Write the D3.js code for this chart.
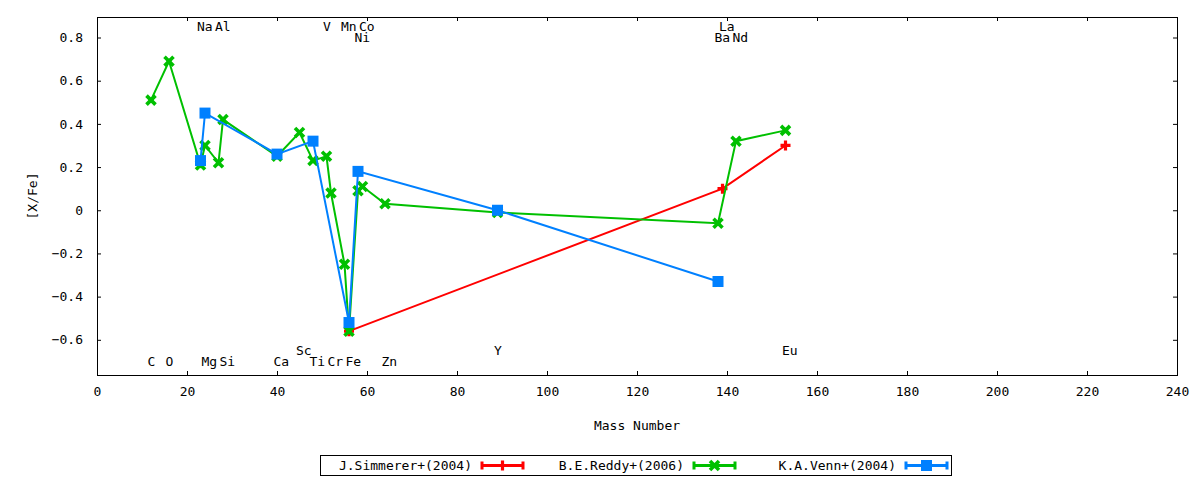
<!DOCTYPE html>
<html>
<head>
<meta charset="utf-8">
<script src="https://cdn.jsdelivr.net/npm/d3@7"></script>
<style>
  html, body { margin: 0; padding: 0; background: #fff; }
  text { font-family: "DejaVu Sans Mono", monospace; font-size: 13px; fill: #000; }
</style>
</head>
<body>
<svg id="chart" width="1200" height="480"></svg>
<script>
// ---- data ----
const simmererMass = [56, 139, 153];
const simmererVal  = [-0.56, 0.10, 0.30];

const reddyMass = [12, 16, 23, 24, 27, 28, 40, 45, 48, 51, 52, 55, 56, 58, 59, 64, 89, 138, 142, 153];
const reddyVal  = [0.51, 0.69, 0.21, 0.30, 0.22, 0.42, 0.25, 0.36, 0.23, 0.25, 0.08, -0.25, -0.56, 0.09, 0.11, 0.03, -0.01, -0.06, 0.32, 0.37];

const vennMass = [23, 24, 40, 48, 56, 58, 89, 138];
const vennVal  = [0.23, 0.45, 0.26, 0.32, -0.52, 0.18, 0.00, -0.33];

const elemNames = ["Na", "Al", "V", "Mn", "Co", "La", "Ni", "Ba", "Nd", "Sc", "Y", "Eu", "C", "O", "Mg", "Si", "Ca", "Ti", "Cr", "Fe", "Zn"];
const elemMass  = [23, 27, 51, 55, 59, 139, 58, 138, 142, 45, 89, 153, 12, 16, 24, 28, 40, 48, 52, 56, 64];
const elemY     = [0.85, 0.85, 0.85, 0.85, 0.85, 0.85, 0.80, 0.80, 0.80, -0.65, -0.65, -0.65, -0.70, -0.70, -0.70, -0.70, -0.70, -0.70, -0.70, -0.70, -0.70];

const xTicks = [0, 20, 40, 60, 80, 100, 120, 140, 160, 180, 200, 220, 240];
const yTicks = [-0.6, -0.4, -0.2, 0, 0.2, 0.4, 0.6, 0.8];

const seriesNames = ["J.Simmerer+(2004)", "B.E.Reddy+(2006)", "K.A.Venn+(2004)"];
const xTitle = "Mass Number";
const yTitle = "[X/Fe]";

// ---- layout ----
const L = 97, R = 1177, T = 17, B = 375;
const svg = d3.select("#chart");
const x = d3.scaleLinear().domain([0, 240]).range([L, R]);
const y = d3.scaleLinear().domain([-0.763, 0.895]).range([B, T]);
const tickLen = 4;

// axes with inward ticks (mirrored)
const fmt = d => d === 0 ? "0" : d3.format(".1f")(d);
const axB = svg.append("g").attr("transform", `translate(0,${B})`)
  .call(d3.axisBottom(x).tickValues(xTicks).tickSizeInner(-tickLen).tickSizeOuter(0).tickPadding(12).tickFormat(d3.format("d")));
const axT = svg.append("g").attr("transform", `translate(0,${T})`)
  .call(d3.axisTop(x).tickValues(xTicks).tickSizeInner(-tickLen).tickSizeOuter(0).tickFormat(""));
const axL = svg.append("g").attr("transform", `translate(${L},0)`)
  .call(d3.axisLeft(y).tickValues(yTicks).tickSizeInner(-tickLen).tickSizeOuter(0).tickPadding(14).tickFormat(fmt));
const axR = svg.append("g").attr("transform", `translate(${R},0)`)
  .call(d3.axisRight(y).tickValues(yTicks).tickSizeInner(-tickLen).tickSizeOuter(0).tickFormat(""));
[axB, axT, axL, axR].forEach(a => {
  a.select(".domain").remove();
  a.selectAll("line").attr("stroke", "#000").attr("stroke-width", 1);
  a.selectAll("text").style("font-family", "DejaVu Sans Mono, monospace").style("font-size", "13px").attr("fill", "#000");
});
axB.selectAll("text").attr("dy", "0.71em");

// border
svg.append("rect").attr("x", L + 0.5).attr("y", T + 0.5).attr("width", R - L).attr("height", B - T)
  .attr("fill", "none").attr("stroke", "#000").attr("stroke-width", 1);

// titles
svg.append("text").attr("x", (L + R) / 2).attr("y", 425).attr("text-anchor", "middle")
  .attr("dominant-baseline", "central").text(xTitle);
svg.append("text").attr("transform", `translate(32,${(T + B) / 2}) rotate(-90)`)
  .attr("text-anchor", "middle").attr("dominant-baseline", "central").text(yTitle);

// element labels
svg.append("g").selectAll("text").data(elemNames).join("text")
  .attr("x", (d, i) => x(elemMass[i]) - 3.5)
  .attr("y", (d, i) => y(elemY[i]))
  .attr("dominant-baseline", "central")
  .text(d => d);

// ---- series ----
const colors = ["#ff0000", "#00c000", "#0080ff"];
const series = [
  { mass: simmererMass, val: simmererVal, color: colors[0], marker: "plus" },
  { mass: reddyMass, val: reddyVal, color: colors[1], marker: "cross" },
  { mass: vennMass, val: vennVal, color: colors[2], marker: "square" }
];
const line = d3.line().x(d => x(d[0])).y(d => y(d[1]));

function drawMarker(g, type, cx, cy, color) {
  if (type === "plus") {
    g.append("path").attr("d", `M${cx - 5},${cy}H${cx + 5}M${cx},${cy - 5}V${cy + 5}`)
      .attr("stroke", color).attr("stroke-width", 3.2).attr("fill", "none");
  } else if (type === "cross") {
    g.append("path").attr("d", `M${cx - 4.5},${cy - 4.5}L${cx + 4.5},${cy + 4.5}M${cx - 4.5},${cy + 4.5}L${cx + 4.5},${cy - 4.5}`)
      .attr("stroke", color).attr("stroke-width", 3.6).attr("fill", "none");
    g.append("rect").attr("x", cx - 2.5).attr("y", cy - 2.5).attr("width", 5).attr("height", 5).attr("fill", color);
  } else {
    g.append("rect").attr("x", cx - 5.5).attr("y", cy - 5.5).attr("width", 11).attr("height", 11).attr("fill", color);
  }
}

series.forEach(s => {
  const g = svg.append("g");
  const pts = s.mass.map((m, i) => [m, s.val[i]]);
  g.append("path").datum(pts).attr("d", line).attr("fill", "none")
    .attr("stroke", s.color).attr("stroke-width", 2).attr("stroke-linejoin", "miter");
  pts.forEach(p => drawMarker(g, s.marker, x(p[0]), y(p[1]), s.color));
});

// ---- legend ----
const lg = svg.append("g");
lg.append("rect").attr("x", 320.5).attr("y", 455.5).attr("width", 631).attr("height", 20)
  .attr("fill", "none").attr("stroke", "#000").attr("stroke-width", 1);
const legendTextEnd = [472, 684, 896];
series.forEach((s, i) => {
  const tx = legendTextEnd[i], cy = 465.5;
  lg.append("text").attr("x", tx).attr("y", cy).attr("text-anchor", "end")
    .attr("dominant-baseline", "central").text(seriesNames[i]);
  const x1 = tx + 10, x2 = tx + 51;
  lg.append("path").attr("d", `M${x1},${cy}H${x2}M${x1},${cy - 4}V${cy + 4}M${x2},${cy - 4}V${cy + 4}`)
    .attr("stroke", s.color).attr("stroke-width", 3).attr("fill", "none");
  drawMarker(lg, s.marker, (x1 + x2) / 2, cy, s.color);
});
</script>
</body>
</html>
